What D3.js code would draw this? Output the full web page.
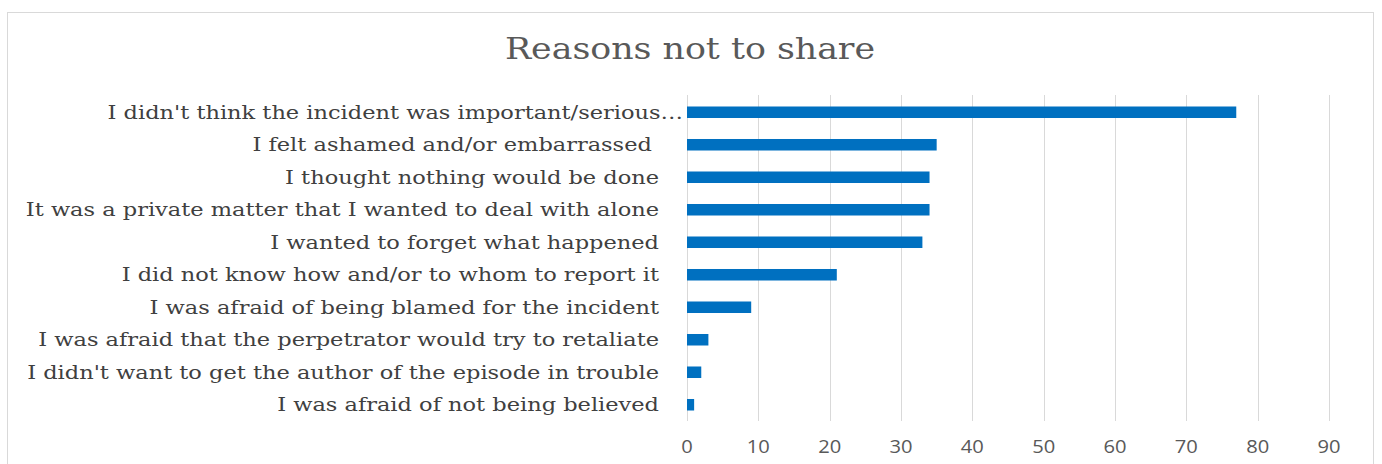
<!DOCTYPE html>
<html>
<head>
<meta charset="utf-8">
<script src="https://cdn.jsdelivr.net/npm/d3@7"></script>
<style>
  body { margin: 0; background: #fff; }
  .lbl { font-family: "DejaVu Serif", serif; fill: #404040; }
  .tick-lbl { font-family: "Open Sans", sans-serif; fill: #595959; }
</style>
</head>
<body>
<div id="chart"></div>
<script>
(function () {
    var categories = [
        "I didn't think the incident was important/serious…",
        "I felt ashamed and/or embarrassed ",
        "I thought nothing would be done",
        "It was a private matter that I wanted to deal with alone",
        "I wanted to forget what happened",
        "I did not know how and/or to whom to report it",
        "I was afraid of being blamed for the incident",
        "I was afraid that the perpetrator would try to retaliate",
        "I didn't want to get the author of the episode in trouble",
        "I was afraid of not being believed"
    ];
    var values = [77, 35, 34, 34, 33, 21, 9, 3, 2, 1];
    var tickValues = [0, 10, 20, 30, 40, 50, 60, 70, 80, 90];
    var title = "Reasons not to share";

    var width = 1382, height = 464;
    // the source picture is stretched sideways, so text gets a wider scale
    var stretch = 1.25;

    const svg = d3.select('#chart')
        .append('svg')
        .attr('width', width)
        .attr('height', height);

    // chart border
    svg.append('rect')
        .attr('x', 7.5).attr('y', 12.5)
        .attr('width', 1366).attr('height', 470)
        .attr('fill', '#fff')
        .attr('stroke', '#d9d9d9');

    svg.append('text')
        .attr('transform', `translate(690,59) scale(1.2,1)`)
        .attr('text-anchor', 'middle')
        .attr('font-family', '"DejaVu Serif", serif')
        .attr('font-size', 29)
        .attr('fill', '#595959')
        .text(title);

    const x = d3.scaleLinear().domain([0, 90]).range([687, 1329]);
    const y = d3.scaleBand()
        .domain(categories)
        .range([96, 421])
        .paddingInner(0.646)
        .paddingOuter(0.323);

    // gridlines
    svg.append('g')
        .selectAll('line')
        .data(tickValues)
        .join('line')
        .attr('x1', d => Math.round(x(d)) + 0.5)
        .attr('x2', d => Math.round(x(d)) + 0.5)
        .attr('y1', 95).attr('y2', 421)
        .attr('stroke', '#d9d9d9')
        .attr('stroke-width', 1);

    // bars
    svg.append('g')
        .selectAll('rect')
        .data(values)
        .join('rect')
        .attr('x', x(0))
        .attr('y', (d, i) => y(categories[i]))
        .attr('width', d => x(d) - x(0))
        .attr('height', y.bandwidth())
        .attr('fill', '#0070c0');

    // category labels
    svg.append('g')
        .selectAll('text')
        .data(categories)
        .join('text')
        .attr('class', 'lbl')
        .attr('transform', d => `translate(${d.endsWith('…') ? 683 : 659},${y(d) + y.bandwidth() / 2}) scale(${stretch},1)`)
        .attr('dy', '0.36em')
        .attr('text-anchor', 'end')
        .attr('font-size', 18)
        .attr('xml:space', 'preserve')
        .style('white-space', 'pre')
        .text(d => d);

    // x axis tick labels
    svg.append('g')
        .selectAll('text')
        .data(tickValues)
        .join('text')
        .attr('class', 'tick-lbl')
        .attr('transform', d => `translate(${x(d)},447) scale(1.12,1)`)
        .attr('dy', '0.35em')
        .attr('text-anchor', 'middle')
        .attr('font-size', 18)
        .text(d => d);
}());
</script>
</body>
</html>
